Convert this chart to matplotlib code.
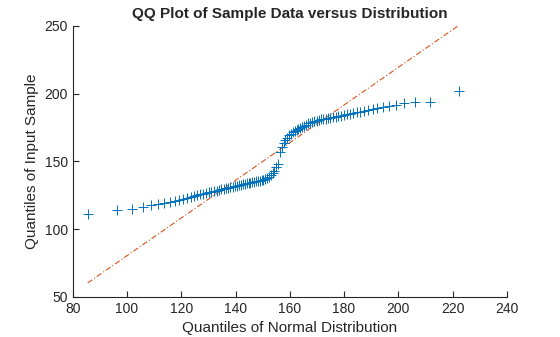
import numpy as np
import matplotlib
matplotlib.use("Agg")
from matplotlib import pyplot as plt

# x: quantiles of the normal distribution, y: sorted sample values
x_quant = [85.5, 96.3, 101.9, 105.8, 108.9, 111.5, 113.7, 115.7, 117.5, 119.1,
           120.6, 122.1, 123.4, 124.7, 125.9, 127.0, 128.1, 129.1, 130.2, 131.1,
           132.1, 133.0, 133.9, 134.8, 135.6, 136.5, 137.3, 138.1, 138.9, 139.7,
           140.4, 141.2, 141.9, 142.7, 143.4, 144.1, 144.8, 145.5, 146.2, 146.9,
           147.6, 148.3, 149.0, 149.6, 150.3, 151.0, 151.7, 152.3, 153.0, 153.7,
           154.3, 155.0, 155.7, 156.3, 157.0, 157.7, 158.4, 159.0, 159.7, 160.4,
           161.1, 161.8, 162.5, 163.2, 163.9, 164.6, 165.3, 166.1, 166.8, 167.6,
           168.3, 169.1, 169.9, 170.7, 171.5, 172.4, 173.2, 174.1, 175.0, 175.9,
           176.9, 177.8, 178.9, 179.9, 181.0, 182.1, 183.3, 184.6, 185.9, 187.4,
           188.9, 190.5, 192.3, 194.3, 196.5, 199.1, 202.2, 206.1, 211.7, 222.5]

y_sample = [111.0, 114.0, 114.7, 116.4, 117.6, 118.6, 119.6, 120.2, 121.0, 121.8,
            122.5, 123.2, 123.8, 124.5, 125.0, 125.6, 126.1, 126.6, 127.1, 127.5,
            128.0, 128.4, 128.9, 129.3, 129.7, 130.1, 130.5, 130.9, 131.3, 131.7,
            132.0, 132.4, 132.7, 133.1, 133.4, 133.8, 134.1, 134.4, 134.7, 135.0,
            135.3, 135.6, 135.9, 136.2, 136.6, 137.0, 137.6, 138.5, 140.0, 141.5,
            142.8, 146.0, 148.0, 157.0, 161.0, 163.5, 165.5, 167.5, 169.3, 170.5,
            171.5, 172.4, 173.2, 174.0, 174.8, 175.6, 176.4, 177.2, 178.0, 178.7,
            179.3, 179.8, 180.2, 180.6, 181.0, 181.3, 181.6, 181.9, 182.2, 182.5,
            182.9, 183.3, 183.7, 184.2, 184.7, 185.2, 185.7, 186.2, 186.7, 187.3,
            187.9, 188.6, 189.4, 190.3, 191.2, 192.0, 193.4, 194.0, 194.1, 202.0]

# fitted reference line, value at the smallest and largest x quantile
ref_line_y = [60.3, 250.7]

x_ticks = [80, 100, 120, 140, 160, 180, 200, 220, 240]
y_ticks = [50, 100, 150, 200, 250]

plt.rcParams["font.family"] = ["Liberation Sans", "DejaVu Sans"]
fig = plt.figure(figsize=(5.6, 3.37), dpi=100)
ax = fig.add_axes([0.130, 0.119, 0.775, 0.804])

x = np.array(x_quant)
y = np.array(y_sample)
xl = [x.min(), x.max()]

ax.plot(xl, ref_line_y, color=(0.85, 0.325, 0.098), linestyle=(0, (5, 2, 1, 2)),
        linewidth=0.8, clip_on=False)
ax.plot(x, y, "+", color=(0, 0.447, 0.741), markersize=7, markeredgewidth=0.7)

ax.set_xlim(80, 240)
ax.set_ylim(50, 250)
ax.set_xticks(x_ticks)
ax.set_yticks(y_ticks)

for side in ["top", "right"]:
    ax.spines[side].set_visible(False)
for side in ["left", "bottom"]:
    ax.spines[side].set_color((0.15, 0.15, 0.15))
    ax.spines[side].set_linewidth(0.8)
ax.tick_params(direction="in", length=4, width=0.8, colors=(0.15, 0.15, 0.15), labelsize=10)

ax.set_title("QQ Plot of Sample Data versus Distribution", fontsize=11, fontweight="bold",
             color=(0.15, 0.15, 0.15))
ax.set_xlabel("Quantiles of Normal Distribution", fontsize=11, color=(0.15, 0.15, 0.15))
ax.set_ylabel("Quantiles of Input Sample", fontsize=11, color=(0.15, 0.15, 0.15))

fig.savefig("out.png", dpi=100)
